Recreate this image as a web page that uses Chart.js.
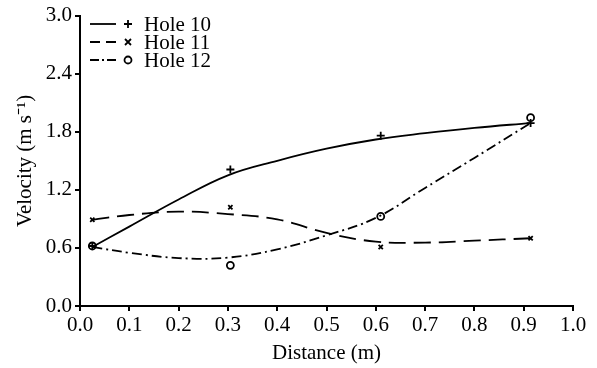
<!DOCTYPE html>
<html>
<head>
<meta charset="utf-8">
<script src="https://cdn.jsdelivr.net/npm/chart.js@4"></script>
<style>
  html, body { margin: 0; padding: 0; background: #fff; }
  #wrap { width: 597px; height: 368px; }
</style>
</head>
<body>
<div id="wrap"><canvas id="velocityChart" width="597" height="368"></canvas></div>
<script>
// measured velocities at each hole
const distances = [0.025, 0.305, 0.61, 0.914];
const hole10 = [0.62, 1.41, 1.76, 1.89];
const hole11 = [0.89, 1.02, 0.61, 0.70];
const hole12 = [0.62, 0.42, 0.925, 1.945];

// fitted trend curves
const fitDistances = [0.025, 0.1, 0.2, 0.3, 0.4, 0.5, 0.6, 0.7, 0.8, 0.914];
const hole10Fit = [0.61, 0.82, 1.10, 1.35, 1.50, 1.625, 1.72, 1.785, 1.84, 1.89];
const hole11Fit = [0.89, 0.94, 0.975, 0.95, 0.895, 0.755, 0.665, 0.655, 0.675, 0.70];
const hole12Fit = [0.61, 0.55, 0.495, 0.50, 0.585, 0.73, 0.91, 1.22, 1.53, 1.89];

const seriesNames = ['Hole 10', 'Hole 11', 'Hole 12'];
const xTicks = [0, 1, 0.1];
const yTicks = [0, 3, 0.6];

const FONT = '"Liberation Serif", "Times New Roman", serif';
const dashes = [[], [17, 8], [10, 4, 2, 4]];
const legendDashes = [[], [10, 6], [9, 3, 2, 3]];
const markers = ['cross', 'crossRot', 'circle'];
const markerSize = [4, 3, 3.5];

function pairs(xs, ys) {
  return xs.map((x, i) => ({ x: x, y: ys[i] }));
}

const fits = [hole10Fit, hole11Fit, hole12Fit];
const points = [hole10, hole11, hole12];

const datasets = [];
fits.forEach((ys, i) => {
  datasets.push({
    label: seriesNames[i] + ' fit',
    data: pairs(fitDistances, ys),
    showLine: true,
    borderColor: '#000',
    borderWidth: 1.8,
    borderDash: dashes[i],
    pointRadius: 0,
    tension: 0.4,
    fill: false
  });
});
points.forEach((ys, i) => {
  datasets.push({
    label: seriesNames[i],
    data: pairs(distances, ys),
    showLine: false,
    pointStyle: markers[i],
    pointRadius: markerSize[i],
    pointBorderWidth: 1.8,
    pointBorderColor: '#000',
    pointBackgroundColor: 'rgba(0,0,0,0)'
  });
});

// legend: line sample + marker + name, top left inside the plot
const lineLegend = {
  id: 'lineLegend',
  afterDraw(chart) {
    const ctx = chart.ctx;
    const rows = [24, 42, 60];
    ctx.save();
    rows.forEach((y, i) => {
      ctx.strokeStyle = '#000';
      ctx.lineWidth = 1.8;
      ctx.setLineDash(legendDashes[i]);
      ctx.beginPath();
      ctx.moveTo(90, y);
      ctx.lineTo(116, y);
      ctx.stroke();
      ctx.setLineDash([]);
      const mx = 128, r = markerSize[i];
      ctx.beginPath();
      if (markers[i] === 'cross') {
        ctx.moveTo(mx - r, y); ctx.lineTo(mx + r, y);
        ctx.moveTo(mx, y - r); ctx.lineTo(mx, y + r);
      } else if (markers[i] === 'crossRot') {
        ctx.moveTo(mx - r, y - r); ctx.lineTo(mx + r, y + r);
        ctx.moveTo(mx - r, y + r); ctx.lineTo(mx + r, y - r);
      } else {
        ctx.arc(mx, y, r, 0, Math.PI * 2);
      }
      ctx.stroke();
      ctx.fillStyle = '#000';
      ctx.font = '21px ' + FONT;
      ctx.textBaseline = 'middle';
      ctx.textAlign = 'left';
      ctx.fillText(seriesNames[i], 144, y + 1);
    });
    ctx.restore();
  }
};

const axisCommon = {
  type: 'linear',
  grid: { display: true, drawOnChartArea: false, drawTicks: true, tickLength: 5, color: '#000', lineWidth: 2 },
  border: { display: true, color: '#000', width: 2 },
  ticks: { color: '#000', font: { family: FONT, size: 21 } },
  title: { display: true, color: '#000', font: { family: FONT, size: 21 } }
};

new Chart(document.getElementById('velocityChart').getContext('2d'), {
  type: 'scatter',
  data: { datasets: datasets },
  options: {
    responsive: false,
    animation: false,
    layout: { padding: { top: 13, right: 24, left: 0, bottom: 0 } },
    plugins: { legend: { display: false }, tooltip: { enabled: false } },
    scales: {
      x: Object.assign({}, axisCommon, {
        min: xTicks[0], max: xTicks[1],
        ticks: Object.assign({}, axisCommon.ticks, { stepSize: xTicks[2], padding: 2, maxRotation: 0, callback: v => v.toFixed(1) }),
        title: Object.assign({}, axisCommon.title, { text: 'Distance (m)', padding: { top: 0, bottom: 2 } }),
        afterFit(scale) { scale.height = 62; }
      }),
      y: Object.assign({}, axisCommon, {
        min: yTicks[0], max: yTicks[1],
        ticks: Object.assign({}, axisCommon.ticks, { stepSize: yTicks[2], padding: 3, callback: v => v.toFixed(1) }),
        title: Object.assign({}, axisCommon.title, { text: 'Velocity (m s⁻¹)', padding: { top: 13, bottom: 0 } }),
        afterFit(scale) { scale.width = 80; }
      })
    }
  },
  plugins: [lineLegend]
});
</script>
</body>
</html>
